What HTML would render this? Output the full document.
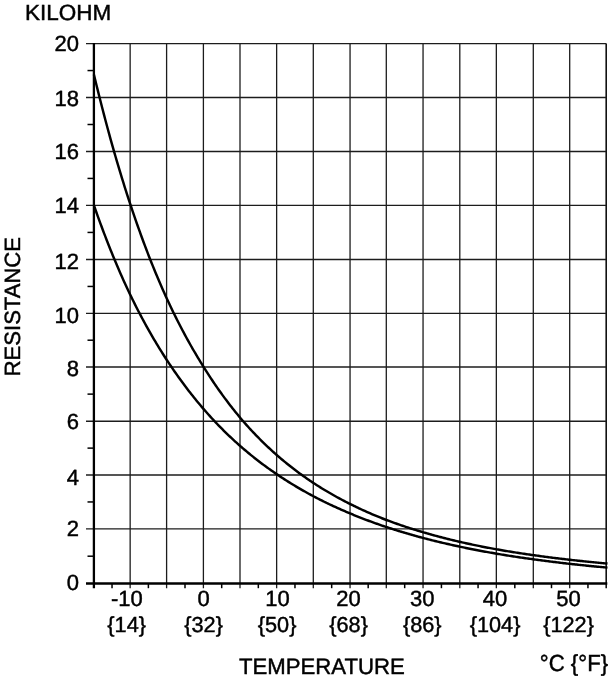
<!DOCTYPE html>
<html><head><meta charset="utf-8"><style>
html,body{margin:0;padding:0;background:#fff;}
svg{display:block;}
text{font-family:"Liberation Sans",Arial,sans-serif;font-size:22px;fill:#000;stroke:#000;stroke-width:0.45;text-rendering:geometricPrecision;}
.g{stroke:#1c1c1c;stroke-width:1.3;}
.t{stroke:#000;stroke-width:1.5;}
.a{stroke:#000;stroke-width:2.3;}
.c{fill:none;stroke:#000;stroke-width:2.45;stroke-linejoin:round;}
.r{stroke:#111;stroke-width:1.6;}
</style></head><body>
<svg width="609" height="680" viewBox="0 0 609 680">
<rect width="609" height="680" fill="#fff"/>
<line x1="130.15" y1="43.60" x2="130.15" y2="588.2" class="g"/>
<line x1="166.60" y1="43.60" x2="166.60" y2="588.2" class="g"/>
<line x1="203.40" y1="43.60" x2="203.40" y2="588.2" class="g"/>
<line x1="240.00" y1="43.60" x2="240.00" y2="588.2" class="g"/>
<line x1="276.64" y1="43.60" x2="276.64" y2="588.2" class="g"/>
<line x1="313.30" y1="43.60" x2="313.30" y2="588.2" class="g"/>
<line x1="350.05" y1="43.60" x2="350.05" y2="588.2" class="g"/>
<line x1="386.30" y1="43.60" x2="386.30" y2="588.2" class="g"/>
<line x1="423.05" y1="43.60" x2="423.05" y2="588.2" class="g"/>
<line x1="459.80" y1="43.60" x2="459.80" y2="588.2" class="g"/>
<line x1="496.34" y1="43.60" x2="496.34" y2="588.2" class="g"/>
<line x1="533.30" y1="43.60" x2="533.30" y2="588.2" class="g"/>
<line x1="569.70" y1="43.60" x2="569.70" y2="588.2" class="g"/>
<line x1="606.20" y1="43.60" x2="606.20" y2="588.2" class="g r"/>
<line x1="86" y1="528.90" x2="606.20" y2="528.90" class="g"/>
<line x1="86" y1="475.00" x2="606.20" y2="475.00" class="g"/>
<line x1="86" y1="421.25" x2="606.20" y2="421.25" class="g"/>
<line x1="86" y1="367.00" x2="606.20" y2="367.00" class="g"/>
<line x1="86" y1="313.40" x2="606.20" y2="313.40" class="g"/>
<line x1="86" y1="259.50" x2="606.20" y2="259.50" class="g"/>
<line x1="86" y1="205.35" x2="606.20" y2="205.35" class="g"/>
<line x1="86" y1="151.50" x2="606.20" y2="151.50" class="g"/>
<line x1="86" y1="97.50" x2="606.20" y2="97.50" class="g"/>
<line x1="86" y1="43.60" x2="606.20" y2="43.60" class="g"/>
<line x1="87.5" y1="556.20" x2="94" y2="556.20" class="t"/>
<line x1="87.5" y1="501.95" x2="94" y2="501.95" class="t"/>
<line x1="87.5" y1="448.12" x2="94" y2="448.12" class="t"/>
<line x1="87.5" y1="394.12" x2="94" y2="394.12" class="t"/>
<line x1="87.5" y1="340.20" x2="94" y2="340.20" class="t"/>
<line x1="87.5" y1="286.45" x2="94" y2="286.45" class="t"/>
<line x1="87.5" y1="232.43" x2="94" y2="232.43" class="t"/>
<line x1="87.5" y1="178.43" x2="94" y2="178.43" class="t"/>
<line x1="87.5" y1="124.50" x2="94" y2="124.50" class="t"/>
<line x1="87.5" y1="70.55" x2="94" y2="70.55" class="t"/>
<line x1="112.03" y1="583" x2="112.03" y2="588.2" class="t"/>
<line x1="148.38" y1="583" x2="148.38" y2="588.2" class="t"/>
<line x1="185.00" y1="583" x2="185.00" y2="588.2" class="t"/>
<line x1="221.70" y1="583" x2="221.70" y2="588.2" class="t"/>
<line x1="258.32" y1="583" x2="258.32" y2="588.2" class="t"/>
<line x1="294.97" y1="583" x2="294.97" y2="588.2" class="t"/>
<line x1="331.68" y1="583" x2="331.68" y2="588.2" class="t"/>
<line x1="368.18" y1="583" x2="368.18" y2="588.2" class="t"/>
<line x1="404.68" y1="583" x2="404.68" y2="588.2" class="t"/>
<line x1="441.43" y1="583" x2="441.43" y2="588.2" class="t"/>
<line x1="478.07" y1="583" x2="478.07" y2="588.2" class="t"/>
<line x1="514.82" y1="583" x2="514.82" y2="588.2" class="t"/>
<line x1="551.50" y1="583" x2="551.50" y2="588.2" class="t"/>
<line x1="587.95" y1="583" x2="587.95" y2="588.2" class="t"/>
<line x1="93.9" y1="43.0" x2="93.9" y2="588.2" class="a"/>
<line x1="86" y1="583.5" x2="607.3" y2="583.5" class="a"/>
<polyline class="c" points="93.90,74.43 95.18,79.72 96.45,84.95 97.73,90.12 99.00,95.23 100.28,100.29 101.55,105.30 102.83,110.25 104.10,115.15 105.38,119.98 106.65,124.77 107.93,129.50 109.20,134.18 110.48,138.81 111.75,143.38 113.03,147.90 114.30,152.37 115.58,156.78 116.85,161.14 118.13,165.45 119.40,169.72 120.68,173.93 121.95,178.10 123.23,182.22 124.50,186.30 125.78,190.33 127.05,194.31 128.33,198.25 129.60,202.15 130.88,206.01 132.17,209.84 133.45,213.63 134.73,217.37 136.01,221.08 137.29,224.74 138.58,228.37 139.86,231.95 141.14,235.49 142.42,239.00 143.71,242.46 144.99,245.89 146.27,249.28 147.55,252.63 148.83,255.94 150.12,259.22 151.40,262.45 152.68,265.64 153.96,268.80 155.25,271.92 156.53,275.01 157.81,278.06 159.09,281.08 160.37,284.06 161.66,287.02 162.94,289.94 164.22,292.83 165.50,295.68 166.79,298.51 168.08,301.30 169.38,304.07 170.67,306.80 171.97,309.51 173.26,312.18 174.55,314.82 175.85,317.42 177.14,319.99 178.44,322.54 179.73,325.06 181.03,327.55 182.32,330.01 183.62,332.45 184.91,334.86 186.20,337.24 187.50,339.60 188.79,341.93 190.09,344.24 191.38,346.52 192.68,348.78 193.97,351.01 195.27,353.22 196.56,355.41 197.86,357.57 199.15,359.71 200.44,361.82 201.74,363.92 203.03,365.99 204.32,368.05 205.61,370.10 206.90,372.13 208.19,374.14 209.47,376.12 210.76,378.09 212.05,380.03 213.34,381.95 214.62,383.85 215.91,385.74 217.20,387.60 218.49,389.44 219.77,391.26 221.06,393.07 222.35,394.85 223.64,396.62 224.92,398.36 226.21,400.09 227.50,401.80 228.79,403.49 230.07,405.16 231.36,406.82 232.65,408.46 233.94,410.08 235.22,411.69 236.51,413.27 237.80,414.84 239.08,416.40 240.37,417.94 241.66,419.46 242.95,420.96 244.24,422.44 245.53,423.90 246.82,425.35 248.11,426.78 249.40,428.20 250.68,429.60 251.97,430.98 253.26,432.35 254.55,433.71 255.84,435.06 257.13,436.39 258.42,437.70 259.71,439.00 261.00,440.29 262.28,441.57 263.57,442.83 264.86,444.08 266.15,445.32 267.44,446.54 268.73,447.75 270.02,448.95 271.31,450.14 272.59,451.31 273.88,452.47 275.17,453.62 276.46,454.76 277.75,455.89 279.04,457.01 280.33,458.11 281.62,459.20 282.91,460.28 284.20,461.35 285.49,462.41 286.78,463.46 288.07,464.50 289.36,465.53 290.65,466.55 291.94,467.56 293.23,468.55 294.52,469.54 295.81,470.52 297.09,471.48 298.38,472.44 299.67,473.39 300.96,474.33 302.25,475.26 303.54,476.18 304.83,477.09 306.12,478.00 307.41,478.89 308.70,479.78 309.99,480.65 311.28,481.52 312.57,482.38 313.86,483.23 315.15,484.08 316.45,484.91 317.74,485.74 319.03,486.55 320.32,487.36 321.62,488.17 322.91,488.96 324.20,489.75 325.50,490.52 326.79,491.30 328.08,492.06 329.37,492.81 330.67,493.56 331.96,494.30 333.25,495.04 334.55,495.76 335.84,496.48 337.13,497.20 338.42,497.90 339.72,498.60 341.01,499.29 342.30,499.98 343.59,500.65 344.89,501.33 346.18,501.99 347.47,502.65 348.77,503.30 350.06,503.95 351.33,504.59 352.61,505.22 353.88,505.85 355.16,506.47 356.43,507.09 357.71,507.70 358.98,508.30 360.26,508.90 361.53,509.49 362.81,510.08 364.08,510.66 365.36,511.24 366.64,511.81 367.91,512.37 369.19,512.93 370.46,513.49 371.74,514.03 373.01,514.58 374.29,515.12 375.56,515.65 376.84,516.18 378.11,516.70 379.39,517.22 380.66,517.73 381.94,518.24 383.21,518.75 384.49,519.25 385.76,519.74 387.05,520.23 388.34,520.72 389.63,521.20 390.93,521.67 392.22,522.15 393.51,522.61 394.80,523.08 396.10,523.53 397.39,523.99 398.68,524.44 399.98,524.89 401.27,525.33 402.56,525.77 403.85,526.20 405.15,526.63 406.44,527.06 407.73,527.48 409.02,527.90 410.32,528.31 411.61,528.72 412.90,529.13 414.20,529.54 415.49,529.95 416.78,530.35 418.07,530.74 419.37,531.14 420.66,531.53 421.95,531.91 423.25,532.30 424.54,532.68 425.83,533.05 427.12,533.43 428.42,533.80 429.71,534.16 431.00,534.52 432.29,534.88 433.59,535.24 434.88,535.59 436.17,535.94 437.47,536.29 438.76,536.63 440.05,536.98 441.34,537.31 442.64,537.65 443.93,537.98 445.22,538.31 446.51,538.63 447.81,538.96 449.10,539.28 450.39,539.59 451.69,539.91 452.98,540.22 454.27,540.53 455.56,540.84 456.86,541.14 458.15,541.44 459.44,541.74 460.73,542.03 462.01,542.33 463.30,542.62 464.59,542.90 465.87,543.19 467.16,543.47 468.44,543.75 469.73,544.03 471.01,544.31 472.30,544.58 473.58,544.85 474.87,545.12 476.15,545.39 477.44,545.65 478.72,545.91 480.01,546.17 481.30,546.43 482.58,546.68 483.87,546.93 485.15,547.19 486.44,547.43 487.72,547.68 489.01,547.92 490.29,548.17 491.58,548.41 492.86,548.64 494.15,548.88 495.43,549.11 496.72,549.35 498.02,549.58 499.32,549.80 500.62,550.03 501.92,550.25 503.22,550.48 504.53,550.70 505.83,550.92 507.13,551.13 508.43,551.35 509.73,551.56 511.03,551.77 512.33,551.98 513.63,552.19 514.93,552.40 516.23,552.60 517.53,552.80 518.83,553.00 520.13,553.20 521.43,553.40 522.73,553.60 524.03,553.79 525.33,553.98 526.63,554.18 527.93,554.37 529.23,554.55 530.53,554.74 531.83,554.92 533.13,555.11 534.41,555.29 535.69,555.47 536.97,555.65 538.25,555.83 539.53,556.00 540.81,556.18 542.09,556.35 543.37,556.52 544.65,556.69 545.94,556.86 547.22,557.03 548.50,557.20 549.78,557.36 551.06,557.53 552.34,557.69 553.62,557.85 554.90,558.01 556.18,558.17 557.46,558.33 558.74,558.48 560.02,558.64 561.30,558.79 562.58,558.94 563.86,559.09 565.14,559.24 566.42,559.39 567.70,559.54 568.98,559.68 570.27,559.83 571.55,559.97 572.83,560.12 574.12,560.26 575.40,560.40 576.68,560.54 577.97,560.68 579.25,560.81 580.54,560.95 581.82,561.09 583.10,561.22 584.39,561.35 585.67,561.49 586.96,561.62 588.24,561.75 589.52,561.88 590.81,562.00 592.09,562.13 593.38,562.26 594.66,562.38 595.94,562.51 597.23,562.63 598.51,562.75 599.80,562.87 601.08,562.99 602.36,563.11 603.65,563.23 604.93,563.35 606.22,563.46 607.50,563.58"/>
<polyline class="c" points="93.90,205.19 95.18,208.85 96.45,212.47 97.73,216.05 99.00,219.59 100.28,223.09 101.55,226.54 102.83,229.96 104.10,233.34 105.38,236.68 106.65,239.99 107.93,243.25 109.20,246.48 110.48,249.68 111.75,252.83 113.03,255.96 114.30,259.05 115.58,262.09 116.85,265.09 118.13,268.07 119.40,271.01 120.68,273.92 121.95,276.79 123.23,279.64 124.50,282.45 125.78,285.24 127.05,287.99 128.33,290.71 129.60,293.41 130.88,296.07 132.17,298.71 133.45,301.31 134.73,303.89 136.01,306.44 137.29,308.97 138.58,311.47 139.86,313.93 141.14,316.37 142.42,318.77 143.71,321.15 144.99,323.51 146.27,325.84 147.55,328.14 148.83,330.42 150.12,332.68 151.40,334.91 152.68,337.12 153.96,339.31 155.25,341.48 156.53,343.62 157.81,345.74 159.09,347.84 160.37,349.91 161.66,351.97 162.94,354.00 164.22,356.02 165.50,358.01 166.79,359.98 168.08,361.93 169.38,363.87 170.67,365.78 171.97,367.68 173.26,369.58 174.55,371.45 175.85,373.31 177.14,375.15 178.44,376.98 179.73,378.78 181.03,380.56 182.32,382.33 183.62,384.08 184.91,385.81 186.20,387.53 187.50,389.23 188.79,390.91 190.09,392.57 191.38,394.22 192.68,395.85 193.97,397.47 195.27,399.07 196.56,400.65 197.86,402.22 199.15,403.78 200.44,405.32 201.74,406.84 203.03,408.35 204.32,409.84 205.61,411.32 206.90,412.79 208.19,414.24 209.47,415.68 210.76,417.10 212.05,418.51 213.34,419.91 214.62,421.29 215.91,422.65 217.20,423.99 218.49,425.32 219.77,426.64 221.06,427.95 222.35,429.24 223.64,430.52 224.92,431.79 226.21,433.05 227.50,434.30 228.79,435.53 230.07,436.75 231.36,437.96 232.65,439.16 233.94,440.35 235.22,441.53 236.51,442.70 237.80,443.85 239.08,445.00 240.37,446.13 241.66,447.25 242.95,448.37 244.24,449.47 245.53,450.56 246.82,451.65 248.11,452.72 249.40,453.78 250.68,454.84 251.97,455.88 253.26,456.91 254.55,457.94 255.84,458.96 257.13,459.96 258.42,460.96 259.71,461.95 261.00,462.93 262.28,463.90 263.57,464.86 264.86,465.81 266.15,466.76 267.44,467.69 268.73,468.62 270.02,469.54 271.31,470.45 272.59,471.35 273.88,472.25 275.17,473.13 276.46,474.01 277.75,474.88 279.04,475.75 280.33,476.61 281.62,477.46 282.91,478.30 284.20,479.14 285.49,479.97 286.78,480.79 288.07,481.60 289.36,482.41 290.65,483.21 291.94,484.00 293.23,484.78 294.52,485.56 295.81,486.34 297.09,487.10 298.38,487.86 299.67,488.61 300.96,489.36 302.25,490.10 303.54,490.83 304.83,491.55 306.12,492.27 307.41,492.99 308.70,493.70 309.99,494.40 311.28,495.09 312.57,495.78 313.86,496.47 315.15,497.14 316.45,497.81 317.74,498.48 319.03,499.14 320.32,499.80 321.62,500.45 322.91,501.09 324.20,501.73 325.50,502.36 326.79,502.99 328.08,503.61 329.37,504.23 330.67,504.84 331.96,505.45 333.25,506.05 334.55,506.64 335.84,507.23 337.13,507.82 338.42,508.40 339.72,508.98 341.01,509.55 342.30,510.12 343.59,510.68 344.89,511.24 346.18,511.79 347.47,512.34 348.77,512.88 350.06,513.42 351.33,513.96 352.61,514.49 353.88,515.01 355.16,515.53 356.43,516.05 357.71,516.56 358.98,517.07 360.26,517.58 361.53,518.08 362.81,518.57 364.08,519.07 365.36,519.55 366.64,520.04 367.91,520.52 369.19,520.99 370.46,521.47 371.74,521.94 373.01,522.40 374.29,522.86 375.56,523.32 376.84,523.77 378.11,524.22 379.39,524.67 380.66,525.11 381.94,525.55 383.21,525.98 384.49,526.41 385.76,526.84 387.05,527.27 388.34,527.69 389.63,528.11 390.93,528.52 392.22,528.93 393.51,529.35 394.80,529.76 396.10,530.16 397.39,530.57 398.68,530.97 399.98,531.36 401.27,531.76 402.56,532.15 403.85,532.53 405.15,532.92 406.44,533.30 407.73,533.68 409.02,534.05 410.32,534.43 411.61,534.79 412.90,535.16 414.20,535.52 415.49,535.88 416.78,536.24 418.07,536.60 419.37,536.95 420.66,537.30 421.95,537.64 423.25,537.99 424.54,538.33 425.83,538.67 427.12,539.00 428.42,539.34 429.71,539.67 431.00,539.99 432.29,540.32 433.59,540.64 434.88,540.96 436.17,541.28 437.47,541.59 438.76,541.91 440.05,542.22 441.34,542.52 442.64,542.83 443.93,543.13 445.22,543.43 446.51,543.73 447.81,544.03 449.10,544.32 450.39,544.61 451.69,544.90 452.98,545.19 454.27,545.47 455.56,545.75 456.86,546.03 458.15,546.31 459.44,546.59 460.73,546.86 462.01,547.13 463.30,547.40 464.59,547.67 465.87,547.94 467.16,548.20 468.44,548.46 469.73,548.72 471.01,548.98 472.30,549.23 473.58,549.48 474.87,549.74 476.15,549.98 477.44,550.23 478.72,550.48 480.01,550.72 481.30,550.96 482.58,551.20 483.87,551.44 485.15,551.68 486.44,551.91 487.72,552.14 489.01,552.38 490.29,552.60 491.58,552.83 492.86,553.06 494.15,553.28 495.43,553.50 496.72,553.72 498.02,553.94 499.32,554.16 500.62,554.38 501.92,554.59 503.22,554.80 504.53,555.01 505.83,555.22 507.13,555.43 508.43,555.63 509.73,555.84 511.03,556.04 512.33,556.24 513.63,556.44 514.93,556.64 516.23,556.84 517.53,557.03 518.83,557.23 520.13,557.42 521.43,557.61 522.73,557.80 524.03,557.99 525.33,558.17 526.63,558.36 527.93,558.54 529.23,558.72 530.53,558.90 531.83,559.08 533.13,559.26 534.41,559.44 535.69,559.61 536.97,559.79 538.25,559.96 539.53,560.13 540.81,560.30 542.09,560.47 543.37,560.64 544.65,560.81 545.94,560.97 547.22,561.14 548.50,561.30 549.78,561.46 551.06,561.62 552.34,561.78 553.62,561.94 554.90,562.09 556.18,562.25 557.46,562.40 558.74,562.56 560.02,562.71 561.30,562.86 562.58,563.01 563.86,563.16 565.14,563.31 566.42,563.45 567.70,563.60 568.98,563.74 570.27,563.89 571.55,564.03 572.83,564.17 574.12,564.31 575.40,564.45 576.68,564.59 577.97,564.72 579.25,564.86 580.54,565.00 581.82,565.13 583.10,565.26 584.39,565.39 585.67,565.53 586.96,565.66 588.24,565.78 589.52,565.91 590.81,566.04 592.09,566.17 593.38,566.29 594.66,566.42 595.94,566.54 597.23,566.66 598.51,566.78 599.80,566.90 601.08,567.02 602.36,567.14 603.65,567.26 604.93,567.38 606.22,567.50 607.50,567.61"/>
<text transform="translate(25.1,20.2) scale(1,0.975)" style="font-size:22.5px">KILOHM</text>
<text x="79.0" y="51.15" text-anchor="end">20</text>
<text x="79.0" y="106.10" text-anchor="end">18</text>
<text x="79.0" y="158.60" text-anchor="end">16</text>
<text x="79.0" y="213.30" text-anchor="end">14</text>
<text x="79.0" y="268.70" text-anchor="end">12</text>
<text x="79.0" y="322.55" text-anchor="end">10</text>
<text x="79.0" y="375.70" text-anchor="end">8</text>
<text x="79.0" y="428.70" text-anchor="end">6</text>
<text x="79.0" y="484.60" text-anchor="end">4</text>
<text x="79.0" y="535.80" text-anchor="end">2</text>
<text x="79.0" y="589.50" text-anchor="end">0</text>
<text x="126.80" y="605.7" text-anchor="middle">-10</text>
<text x="126.65" y="632.3" text-anchor="middle" style="font-size:21.7px">{14}</text>
<text x="203.60" y="605.7" text-anchor="middle">0</text>
<text x="203.60" y="632.3" text-anchor="middle" style="font-size:21.7px">{32}</text>
<text x="277.60" y="605.7" text-anchor="middle">10</text>
<text x="277.10" y="632.3" text-anchor="middle" style="font-size:21.7px">{50}</text>
<text x="348.50" y="605.7" text-anchor="middle">20</text>
<text x="348.60" y="632.3" text-anchor="middle" style="font-size:21.7px">{68}</text>
<text x="422.20" y="605.7" text-anchor="middle">30</text>
<text x="422.30" y="632.3" text-anchor="middle" style="font-size:21.7px">{86}</text>
<text x="495.05" y="605.7" text-anchor="middle">40</text>
<text x="495.05" y="632.3" text-anchor="middle" style="font-size:21.7px">{104}</text>
<text x="568.60" y="605.7" text-anchor="middle">50</text>
<text x="568.60" y="632.3" text-anchor="middle" style="font-size:21.7px">{122}</text>
<text transform="translate(239.0,674.2) scale(1,1.006)" style="font-size:22.16px">TEMPERATURE</text>
<text transform="translate(539.85,671) scale(1,1.045)" style="font-size:22.17px">°C {°F}</text>
<text transform="translate(20.1,376.3) rotate(-90)" style="font-size:22.05px">RESISTANCE</text>
</svg>
</body></html>
